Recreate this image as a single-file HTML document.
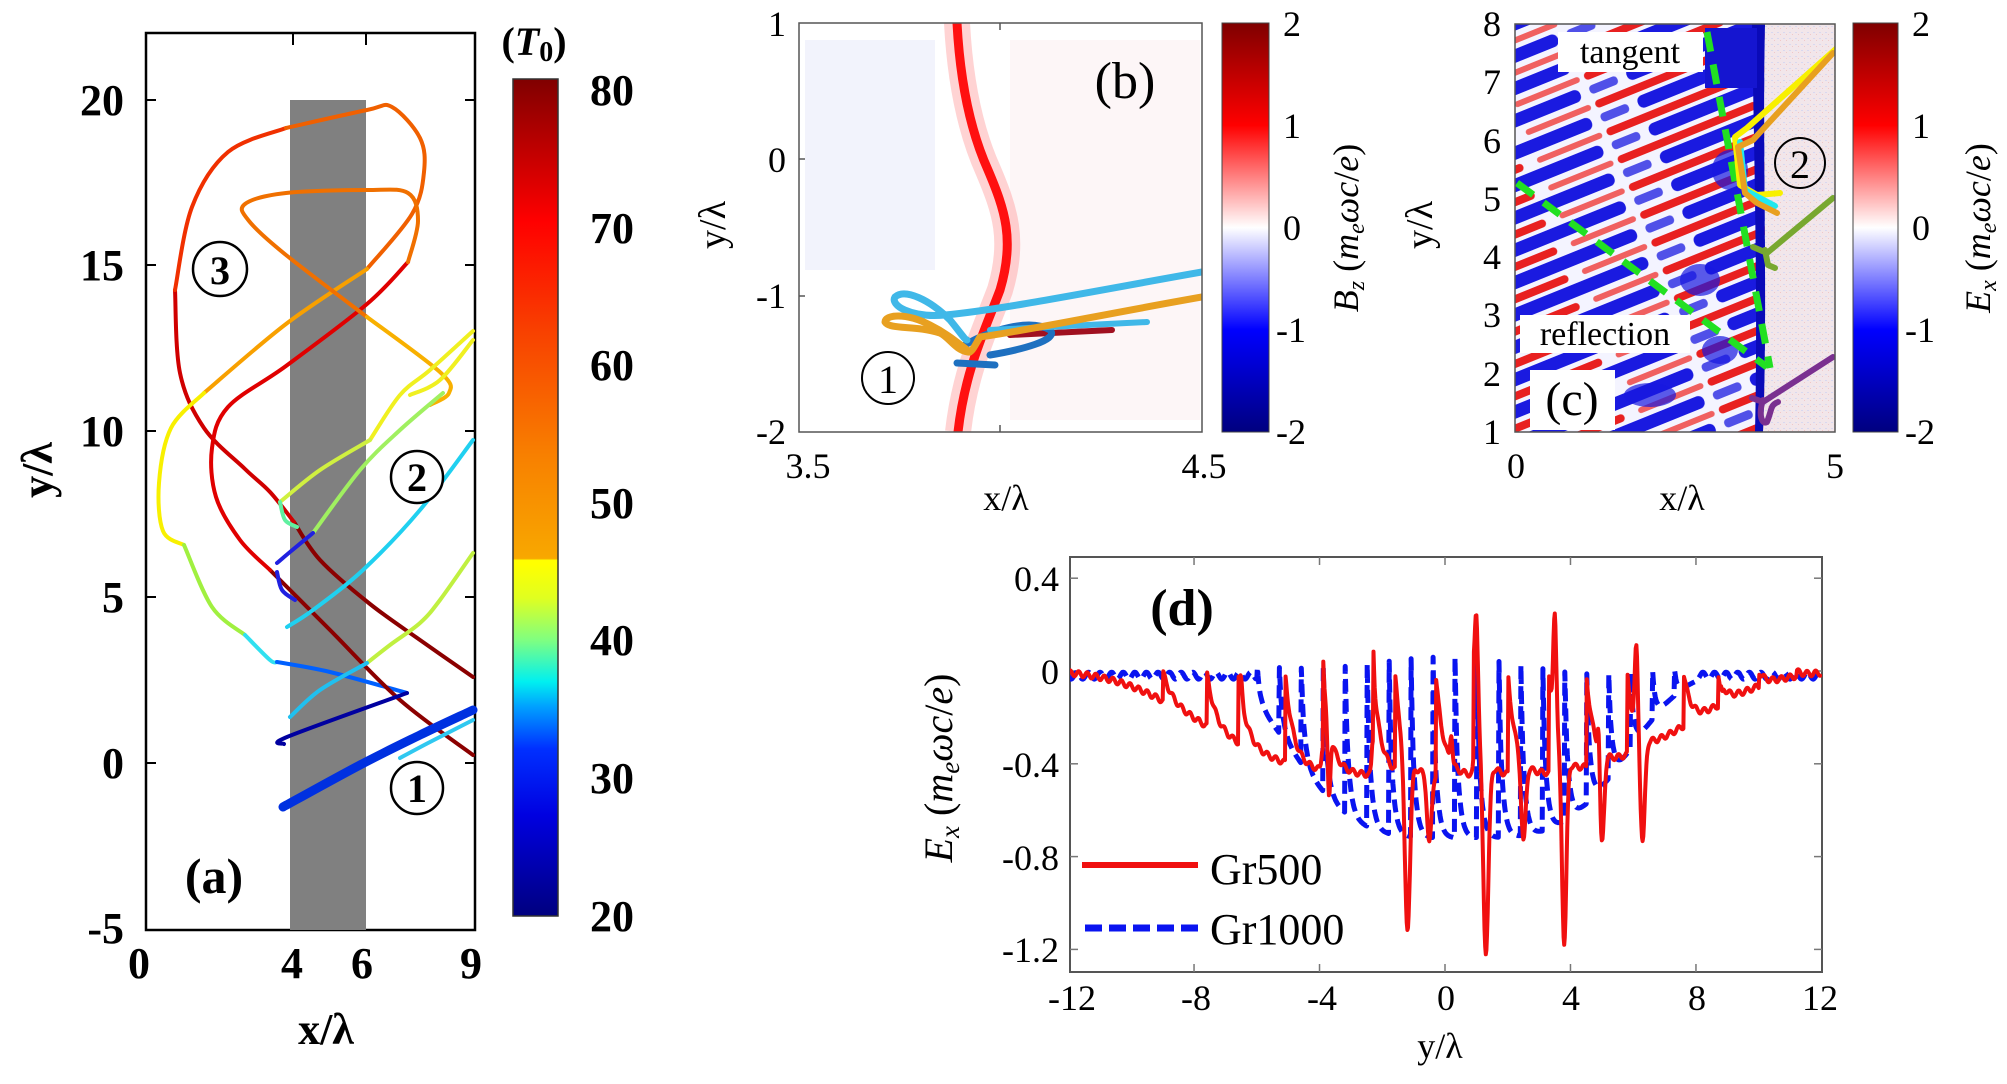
<!DOCTYPE html>
<html><head><meta charset="utf-8">
<style>
html,body{margin:0;padding:0;background:#fff;}
svg{display:block;}
text{font-family:"Liberation Serif",serif;fill:#000;}
.b{font-weight:bold;}
</style></head>
<body>
<svg id="s" width="2007" height="1084" viewBox="0 0 2007 1084" xmlns="http://www.w3.org/2000/svg">
<defs>
<linearGradient id="jet" x1="0" y1="1" x2="0" y2="0">
<stop offset="0" stop-color="#00007f"/>
<stop offset="0.12" stop-color="#0000e0"/>
<stop offset="0.2" stop-color="#0030ff"/>
<stop offset="0.25" stop-color="#00a0ff"/>
<stop offset="0.28" stop-color="#00f0f0"/>
<stop offset="0.33" stop-color="#80ff80"/>
<stop offset="0.38" stop-color="#e0ff20"/>
<stop offset="0.42" stop-color="#ffff00"/>
<stop offset="0.425" stop-color="#ffff00"/>
<stop offset="0.427" stop-color="#f8a800"/>
<stop offset="0.55" stop-color="#f88000"/>
<stop offset="0.7" stop-color="#f84000"/>
<stop offset="0.83" stop-color="#ff0000"/>
<stop offset="1" stop-color="#800000"/>
</linearGradient>
<linearGradient id="bwr" x1="0" y1="1" x2="0" y2="0">
<stop offset="0" stop-color="#00007f"/>
<stop offset="0.25" stop-color="#0000ff"/>
<stop offset="0.5" stop-color="#ffffff"/>
<stop offset="0.75" stop-color="#ff0000"/>
<stop offset="1" stop-color="#7f0000"/>
</linearGradient>
<pattern id="stripes" width="240" height="30" patternUnits="userSpaceOnUse" patternTransform="rotate(-22)">
<rect width="240" height="30" fill="#f4f4ff"/>
<rect x="0" y="1" width="150" height="8" fill="#e82020" rx="4"/>
<rect x="165" y="2" width="70" height="6" fill="#f06060" rx="3"/>
<rect x="40" y="13" width="190" height="13" fill="#1a1ae0" rx="6"/>
<rect x="0" y="15" width="30" height="9" fill="#5050e8" rx="4"/>
</pattern>
<pattern id="noise" width="6" height="6" patternUnits="userSpaceOnUse">
<rect width="6" height="6" fill="#f2e6ea"/>
<rect x="1" y="2" width="2" height="1" fill="#d8d8f0"/>
<rect x="4" y="4" width="1" height="1" fill="#f0c8c8"/>
</pattern>
<clipPath id="cpc"><rect x="1515" y="24" width="320" height="408"/></clipPath>
<clipPath id="cpb"><rect x="799" y="23" width="403" height="409"/></clipPath>
<clipPath id="cpd"><rect x="1070" y="557" width="752" height="415"/></clipPath>
</defs>

<!-- ============ Panel (a) ============ -->
<rect x="146" y="33" width="329" height="897" fill="#fff" stroke="#000" stroke-width="2.5"/>
<rect x="290" y="100" width="76" height="830" fill="#808080"/>
<g stroke="#000" stroke-width="2">
<line x1="146" y1="100" x2="156" y2="100"/><line x1="146" y1="265" x2="156" y2="265"/>
<line x1="146" y1="431" x2="156" y2="431"/><line x1="146" y1="597" x2="156" y2="597"/>
<line x1="146" y1="763" x2="156" y2="763"/>
<line x1="475" y1="100" x2="465" y2="100"/><line x1="475" y1="265" x2="465" y2="265"/>
<line x1="475" y1="431" x2="465" y2="431"/><line x1="475" y1="597" x2="465" y2="597"/>
<line x1="475" y1="763" x2="465" y2="763"/>
<line x1="293" y1="33" x2="293" y2="45"/><line x1="366" y1="33" x2="366" y2="45"/>
</g>
<g id="traj" fill="none" stroke-linecap="round" stroke-linejoin="round" stroke-width="4">
<polyline stroke="#8b0000" points="473,677 420,640 370,604 320,560 294,522"/>
<polyline stroke="#d00000" points="294,522 270,492 245,469 204,428 180,373 175,290"/>
<polyline stroke="#f03000" points="175,290 192,207 228,152 286,128"/>
<polyline stroke="#f06000" points="286,128 367,110 392,107 420,138 424,172 412,214 367,269"/>
<polyline stroke="#f8a000" points="367,269 286,324 204,393"/>
<polyline stroke="#f8f000" points="204,393 171,428 159,483 163,531 184,545"/>
<polyline stroke="#a0f040" points="184,545 212,607 245,635"/>
<polyline stroke="#30e0f0" points="245,635 270,660 277,662"/>
<polyline stroke="#0060ff" points="277,662 330,672 407,693"/>
<polyline stroke="#8b0000" points="473,755 400,700 330,630 270,570"/>
<polyline stroke="#e00000" points="270,570 240,540 216,497 212,448 228,407 286,366 367,304 408,262"/>
<polyline stroke="#f07000" points="408,262 418,221 408,193 367,190 286,193 245,204 249,221 286,255 367,317"/>
<polyline stroke="#f8b000" points="367,317 441,373 449,393 430,405"/>
<polyline stroke="#f0f020" points="473,331 430,370 400,395 370,440"/>
<polyline stroke="#f0f020" points="473,340 440,380 410,395"/>
<polyline stroke="#d0f040" points="370,440 320,470 280,502"/>
<polyline stroke="#60f0a0" points="280,502 285,520 297,527"/>
<polyline stroke="#a0f060" points="443,393 400,430 360,470 313,533"/>
<polyline stroke="#2020e0" points="313,533 290,552 277,563"/>
<polyline stroke="#20d0f0" points="473,440 420,510 363,570 313,610 287,627"/>
<polyline stroke="#c0f040" points="473,553 440,600 420,623 390,645 367,663"/>
<polyline stroke="#20c0f0" points="367,663 320,690 290,717"/>
<polyline stroke="#2020e0" points="277,572 282,590 295,600"/>
<polyline stroke="#0000a0" points="407,693 287,737 284,744"/>
<polyline stroke="#0030e0" stroke-width="9" points="473,710 420,735 360,765 283,807"/>
<polyline stroke="#30c8f0" stroke-width="4" points="473,720 430,742 400,758"/>
</g>
<g fill="#fff" stroke="#000" stroke-width="2.5">
<circle cx="220" cy="269" r="27"/><circle cx="417" cy="477" r="26"/><circle cx="417" cy="788" r="26"/>
</g>
<text x="220" y="284" font-size="40" text-anchor="middle" class="b">3</text>
<text x="417" y="491" font-size="40" text-anchor="middle" class="b">2</text>
<text x="417" y="802" font-size="40" text-anchor="middle" class="b">1</text>
<text x="214" y="893" font-size="50" text-anchor="middle" class="b">(a)</text>
<g font-size="44" class="b" text-anchor="end">
<text x="124" y="115">20</text><text x="124" y="280">15</text><text x="124" y="446">10</text>
<text x="124" y="612">5</text><text x="124" y="778">0</text><text x="124" y="943">-5</text>
</g>
<g font-size="44" class="b" text-anchor="middle">
<text x="139" y="978">0</text><text x="292" y="978">4</text><text x="362" y="978">6</text><text x="471" y="978">9</text>
<text x="326" y="1044">x/λ</text>
</g>
<text transform="translate(52,470) rotate(-90)" font-size="44" class="b" text-anchor="middle">y/λ</text>
<rect x="513" y="79" width="45" height="837" fill="url(#jet)" stroke="#333" stroke-width="1.5"/>
<g font-size="44" class="b" text-anchor="middle">
<text x="612" y="105">80</text><text x="612" y="243">70</text><text x="612" y="380">60</text>
<text x="612" y="518">50</text><text x="612" y="655">40</text><text x="612" y="793">30</text><text x="612" y="931">20</text>
</g>
<text x="534" y="55" font-size="40" class="b" text-anchor="middle">(<tspan font-style="italic">T</tspan><tspan font-size="28" dy="6">0</tspan><tspan dy="-6">)</tspan></text>

<!-- ============ Panel (b) ============ -->
<g clip-path="url(#cpb)">
<rect x="799" y="23" width="403" height="409" fill="#fff"/>
<rect x="805" y="40" width="130" height="230" fill="#f2f3fc"/>
<rect x="1010" y="40" width="190" height="380" fill="#fdf6f7"/>
<path d="M957,23 C960,80 970,130 988,170 C1005,210 1015,240 1000,290 C985,330 965,370 958,432" fill="none" stroke="#ff8080" stroke-width="26" opacity="0.35"/>
<path d="M957,23 C960,80 970,130 988,170 C1005,210 1015,240 1000,290 C985,330 965,370 958,432" fill="none" stroke="#ff1010" stroke-width="9"/>
<g fill="none" stroke-linecap="round" stroke-linejoin="round">
<path d="M1112,330 L1010,335" stroke="#a01020" stroke-width="6"/>
<path d="M957,363 L995,365 M990,355 C1020,350 1060,340 1050,330 C1030,318 990,330 965,345" stroke="#1e70c0" stroke-width="7"/>
<path d="M1202,272 C1100,290 1000,310 945,315 C910,318 890,305 895,297 C905,288 930,300 950,320 C960,332 965,340 967,340" stroke="#40b8e8" stroke-width="7"/>
<path d="M1147,322 L990,330" stroke="#40b8e8" stroke-width="6"/>
<path d="M1202,297 C1100,315 1030,330 980,337 C975,345 972,353 968,352 C955,350 950,338 940,333 C915,325 890,330 885,322 C885,315 905,312 930,325 C950,335 960,345 970,352" stroke="#e8a020" stroke-width="7"/>
</g>
</g>
<rect x="799" y="23" width="403" height="409" fill="none" stroke="#555" stroke-width="1.5"/>
<g stroke="#555" stroke-width="1.5"><line x1="1000" y1="23" x2="1000" y2="30"/><line x1="1000" y1="432" x2="1000" y2="425"/>
<line x1="799" y1="159" x2="805" y2="159"/><line x1="799" y1="296" x2="805" y2="296"/></g>
<circle cx="888" cy="378" r="26" fill="none" stroke="#000" stroke-width="2"/>
<text x="888" y="393" font-size="40" text-anchor="middle">1</text>
<text x="1125" y="98" font-size="52" text-anchor="middle">(b)</text>
<g font-size="36" text-anchor="end">
<text x="786" y="36">1</text><text x="786" y="172">0</text><text x="786" y="308">-1</text><text x="786" y="444">-2</text>
</g>
<g font-size="36" text-anchor="middle"><text x="808" y="478">3.5</text><text x="1204" y="478">4.5</text>
<text x="1006" y="510">x/λ</text></g>
<text transform="translate(725,225) rotate(-90)" font-size="38" text-anchor="middle">y/λ</text>
<rect x="1222" y="23" width="47" height="409" fill="url(#bwr)" stroke="#444" stroke-width="1"/>
<g font-size="36"><text x="1283" y="36">2</text><text x="1283" y="138">1</text><text x="1283" y="240">0</text><text x="1276" y="342">-1</text><text x="1276" y="444">-2</text></g>
<text transform="translate(1358,228) rotate(-90)" font-size="36" text-anchor="middle"><tspan font-style="italic">B</tspan><tspan font-size="24" dy="6" font-style="italic">z</tspan><tspan dy="-6"> (</tspan><tspan font-style="italic">m</tspan><tspan font-size="24" dy="6" font-style="italic">e</tspan><tspan dy="-6" font-style="italic">ωc</tspan><tspan>/</tspan><tspan font-style="italic">e</tspan><tspan>)</tspan></text>

<!-- ============ Panel (c) ============ -->
<g clip-path="url(#cpc)">
<rect x="1515" y="24" width="320" height="408" fill="url(#noise)"/>
<path d="M1515,24 L1765,24 C1762,150 1768,300 1763,432 L1515,432 Z" fill="url(#stripes)"/>
<g fill="#1818e0" opacity="0.7">
<ellipse cx="1730" cy="170" rx="18" ry="20"/>
<ellipse cx="1700" cy="280" rx="20" ry="16"/><ellipse cx="1720" cy="350" rx="18" ry="14"/>
<ellipse cx="1650" cy="395" rx="26" ry="12"/>
</g>
<path d="M1752,24 L1765,24 C1762,150 1768,300 1763,432 L1755,432 C1758,300 1754,150 1752,24 Z" fill="#0a0ab8"/>
<rect x="1705" y="28" width="52" height="60" fill="#1515d0"/>
<g fill="none" stroke="#22e022" stroke-width="7" stroke-dasharray="20 13">
<path d="M1707,32 L1770,368"/><path d="M1517,183 L1767,367"/>
</g>
<g fill="none" stroke-linecap="round" stroke-linejoin="round" stroke-width="6">
<path d="M1837,48 L1747,128 L1735,137 L1740,185 L1757,195 L1780,193" stroke="#f8f000"/>
<path d="M1740,142 L1745,190 L1775,206" stroke="#20e8f0"/>
<path d="M1833,53 L1753,140 L1738,147 L1745,193 L1757,203 L1777,213" stroke="#e8a020"/>
<path d="M1833,198 L1767,253 L1753,247 M1765,250 L1768,265 L1775,268" stroke="#78a830"/>
<path d="M1833,357 L1763,402 L1752,398 M1763,400 C1758,415 1762,425 1767,422 C1772,410 1770,405 1778,402" stroke="#7a3090"/>
</g>
</g>
<rect x="1558" y="32" width="145" height="40" fill="#fff"/>
<text x="1630" y="63" font-size="34" text-anchor="middle">tangent</text>
<rect x="1520" y="315" width="170" height="38" fill="#fff"/>
<text x="1605" y="345" font-size="34" text-anchor="middle">reflection</text>
<rect x="1530" y="370" width="85" height="60" fill="#fff"/>
<text x="1572" y="415" font-size="48" text-anchor="middle">(c)</text>
<circle cx="1800" cy="163" r="25" fill="none" stroke="#000" stroke-width="2"/>
<text x="1800" y="178" font-size="40" text-anchor="middle">2</text>
<rect x="1515" y="24" width="320" height="408" fill="none" stroke="#555" stroke-width="1.5"/>
<g font-size="36" text-anchor="end">
<text x="1501" y="36">8</text><text x="1501" y="94">7</text><text x="1501" y="153">6</text><text x="1501" y="211">5</text>
<text x="1501" y="269">4</text><text x="1501" y="327">3</text><text x="1501" y="386">2</text><text x="1501" y="444">1</text>
</g>
<g font-size="36" text-anchor="middle"><text x="1516" y="478">0</text><text x="1835" y="478">5</text>
<text x="1682" y="510">x/λ</text></g>
<text transform="translate(1432,225) rotate(-90)" font-size="38" text-anchor="middle">y/λ</text>
<rect x="1853" y="23" width="45" height="409" fill="url(#bwr)" stroke="#444" stroke-width="1"/>
<g font-size="36"><text x="1912" y="36">2</text><text x="1912" y="138">1</text><text x="1912" y="240">0</text><text x="1905" y="342">-1</text><text x="1905" y="444">-2</text></g>
<text transform="translate(1990,228) rotate(-90)" font-size="36" text-anchor="middle"><tspan font-style="italic">E</tspan><tspan font-size="24" dy="6" font-style="italic">x</tspan><tspan dy="-6"> (</tspan><tspan font-style="italic">m</tspan><tspan font-size="24" dy="6" font-style="italic">e</tspan><tspan dy="-6" font-style="italic">ωc</tspan><tspan>/</tspan><tspan font-style="italic">e</tspan><tspan>)</tspan></text>

<!-- ============ Panel (d) ============ -->
<rect x="1070" y="557" width="752" height="415" fill="#fff" stroke="#555" stroke-width="2"/>
<g stroke="#777" stroke-width="1.5" id="dticks"></g>
<g clip-path="url(#cpd)">
<path id="blue" fill="none" stroke="#0a14f0" stroke-width="5" stroke-dasharray="13 7" stroke-linejoin="round"/>
<path id="red" fill="none" stroke="#f01010" stroke-width="4" stroke-linejoin="round"/>
</g>
<text x="1182" y="625" font-size="52" class="b" text-anchor="middle">(d)</text>
<line x1="1082" y1="865" x2="1198" y2="865" stroke="#f01010" stroke-width="6"/>
<text x="1210" y="884" font-size="44">Gr500</text>
<line x1="1085" y1="928" x2="1198" y2="928" stroke="#0a14f0" stroke-width="7" stroke-dasharray="17 7"/>
<text x="1210" y="944" font-size="44">Gr1000</text>
<g font-size="36" text-anchor="end">
<text x="1059" y="591">0.4</text><text x="1059" y="684">0</text><text x="1059" y="777">-0.4</text>
<text x="1059" y="870">-0.8</text><text x="1059" y="962">-1.2</text>
</g>
<g font-size="36" text-anchor="middle">
<text x="1072" y="1010">-12</text><text x="1196" y="1010">-8</text><text x="1322" y="1010">-4</text><text x="1446" y="1010">0</text>
<text x="1571" y="1010">4</text><text x="1697" y="1010">8</text><text x="1820" y="1010">12</text>
<text x="1440" y="1058">y/λ</text>
</g>
<text transform="translate(952,768) rotate(-90)" font-size="40" text-anchor="middle"><tspan font-style="italic">E</tspan><tspan font-size="27" dy="7" font-style="italic">x</tspan><tspan dy="-7"> (</tspan><tspan font-style="italic">m</tspan><tspan font-size="27" dy="7" font-style="italic">e</tspan><tspan dy="-7" font-style="italic">ωc</tspan><tspan>/</tspan><tspan font-style="italic">e</tspan><tspan>)</tspan></text>
</svg>
<script>
(function(){
// smooth trajectories (Catmull-Rom)
var pls=document.querySelectorAll('#traj polyline');
pls.forEach(function(pl){
 var pts=pl.getAttribute('points').trim().split(/\s+/).map(function(s){return s.split(',').map(Number);});
 var d='M'+pts[0][0]+','+pts[0][1];
 for(var i=0;i<pts.length-1;i++){
  var p0=pts[Math.max(i-1,0)],p1=pts[i],p2=pts[i+1],p3=pts[Math.min(i+2,pts.length-1)];
  var c1=[p1[0]+(p2[0]-p0[0])/6,p1[1]+(p2[1]-p0[1])/6],c2=[p2[0]-(p3[0]-p1[0])/6,p2[1]-(p3[1]-p1[1])/6];
  d+='C'+c1[0].toFixed(1)+','+c1[1].toFixed(1)+' '+c2[0].toFixed(1)+','+c2[1].toFixed(1)+' '+p2[0]+','+p2[1];
 }
 var p=document.createElementNS('http://www.w3.org/2000/svg','path');
 p.setAttribute('d',d);p.setAttribute('stroke',pl.getAttribute('stroke'));
 if(pl.getAttribute('stroke-width'))p.setAttribute('stroke-width',pl.getAttribute('stroke-width'));
 pl.parentNode.replaceChild(p,pl);
});
var X=function(y){return 1445+y*31.37;}, Y=function(v){return 671-v*232;};
var tk=document.getElementById('dticks'),h='';
[-8,-4,0,4,8].forEach(function(t){var x=X(t);h+='<line x1="'+x+'" y1="972" x2="'+x+'" y2="964"/><line x1="'+x+'" y1="557" x2="'+x+'" y2="565"/>';});
[0.4,0,-0.4,-0.8,-1.2].forEach(function(v){var y=Y(v);h+='<line x1="1070" y1="'+y+'" x2="1078" y2="'+y+'"/><line x1="1822" y1="'+y+'" x2="1814" y2="'+y+'"/>';});
tk.innerHTML=h;
function g(y,c,a,w){var d=(y-c)/w;return a*Math.exp(-d*d);}
var jr=[-9,-7.6,-6.6,-5.1,-3.9,-2.3,-1.6,-0.3,0.9,2.0,3.3,4.5,5.8,7.6,8.7,10.0,11.2];
var dipsR=[[-1.2,-0.75,0.12],[1.3,-0.85,0.12],[3.8,-0.8,0.1],[6.3,-0.45,0.1],[5.0,-0.4,0.1],[2.5,-0.35,0.1],[-3.7,-0.3,0.06],[8.8,-0.15,0.05],[-0.5,-0.3,0.1]];
var pkR=[[1.0,0.4,0.07],[3.5,0.5,0.07],[6.1,0.35,0.07],[-2.3,0.15,0.05],[4.9,0.2,0.05],[0.2,0.12,0.05],[-3.9,0.1,0.05],[-6.5,0.07,0.05],[8.8,0.12,0.04]];
function red(y){var E=-0.45*Math.exp(-Math.pow(y/8.5,4));var p=-99;for(var i=0;i<jr.length;i++)if(jr[i]<=y)p=jr[i];
var v=E*(1-Math.exp(-(y-p)/0.25));dipsR.forEach(function(d){v+=g(y,d[0],d[1],d[2]);});pkR.forEach(function(d){v+=g(y,d[0],d[1],d[2]);});
v+=0.012*Math.sin(y*23);return v;}
function blue(y){var E=(y>-6&&y<8)?-0.72*Math.exp(-Math.pow((y-0.5)/5.8,4)):-0.03;var per=0.7;var t=((y+20)%per+per)%per;
var v=E*(1-Math.exp(-t/0.12));if(y>-6&&y<8)v+=0.2*Math.exp(-Math.pow(t/0.05,2))*Math.exp(-Math.pow(y/5,2));
if(y<-6||y>8)v=-0.02+0.015*Math.sin(y*17);return v;}
var r='',b='';for(var y=-12;y<=12.001;y+=0.02){r+=(r?'L':'M')+X(y).toFixed(1)+','+Y(red(y)).toFixed(1);b+=(b?'L':'M')+X(y).toFixed(1)+','+Y(blue(y)).toFixed(1);}
document.getElementById('red').setAttribute('d',r);document.getElementById('blue').setAttribute('d',b);
})();
</script>
</body></html>
